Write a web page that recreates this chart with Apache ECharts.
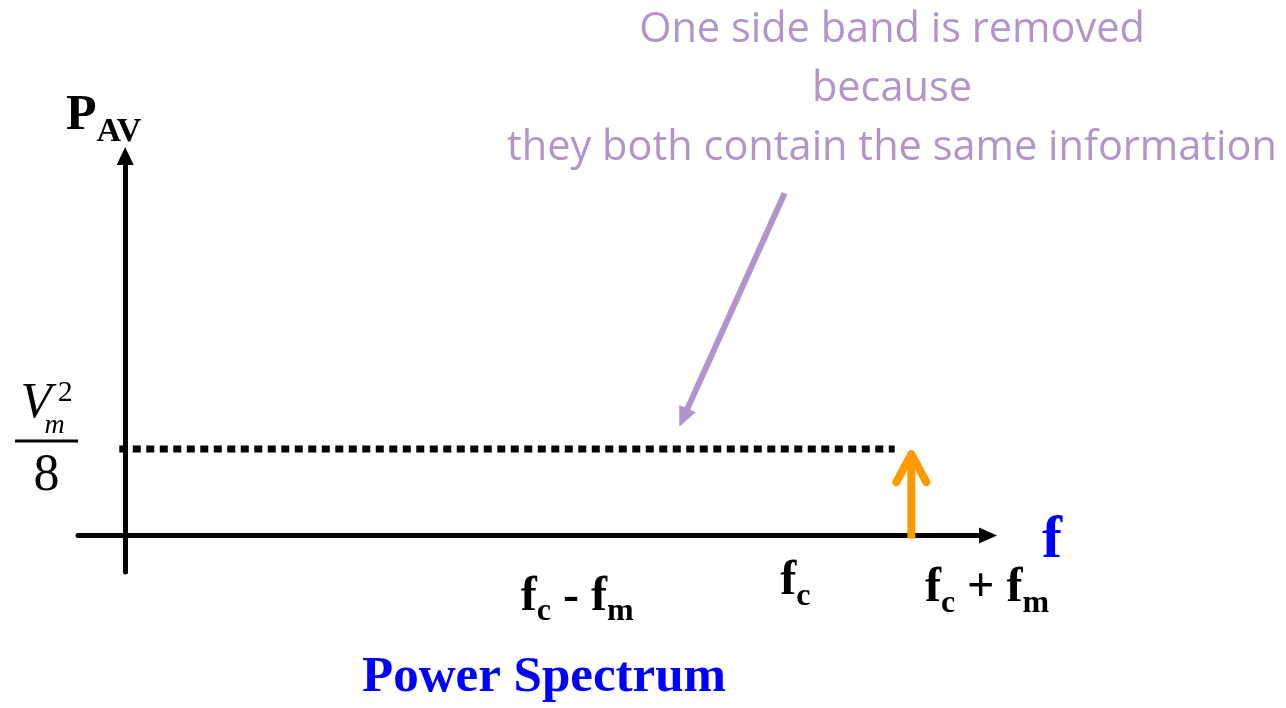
<!DOCTYPE html>
<html>
<head>
<meta charset="utf-8">
<title>Power Spectrum</title>
<script src="https://cdn.jsdelivr.net/npm/echarts@6/dist/echarts.min.js"></script>
<style>
    html, body { margin: 0; padding: 0; background: #fff; }
    #main { width: 1286px; height: 708px; }
</style>
</head>
<body>
<div id="main"></div>
<script>
// axis ranges (f on x, P_AV on y)
var xRange = [-0.48, 8.78];
var yRange = [-0.42, 4.38];

// sideband power level Vm^2/8 and the remaining side band
var level = 1;
var sideBandX = [8];
var sideBandY = [0.94];

// dotted level line
var dottedX = [-0.06, 7.83];

// frequency labels under the axis
var freqLabels = ['f_c - f_m', 'f_c', 'f_c + f_m'];
var freqLabelX = [4.6, 6.82, 8.77];
var freqLabelY = [-0.71, -0.53, -0.61];

// level label (Vm^2 / 8) left of the P axis
var levelLabelX = [-0.8];
var levelLabelY = [1.16];

// annotation arrow (start, end)
var noteArrowX = [6.71, 5.68];
var noteArrowY = [3.95, 1.36];

var noteText = ['One side band is removed', 'because', 'they both contain the same information'];
var titleText = 'Power Spectrum';
var yName = 'P_AV';
var xName = 'f';

var serif = 'Liberation Serif';
var purple = '#b294cc';

// "f_c" -> "{f|f}{s|c}"
function toRich(s) {
    var parts = s.split(/_(\w+)/);
    var out = '';
    for (var i = 0; i < parts.length; i++) {
        if (parts[i] === '') continue;
        out += (i % 2 ? '{s|' : '{f|') + parts[i] + '}';
    }
    return out;
}

var labelData = [];
for (var i = 0; i < freqLabels.length; i++) {
    labelData.push([freqLabelX[i], freqLabelY[i]]);
}

var myChart = echarts.init(document.getElementById('main'));

var option = {
    animation: false,
    backgroundColor: '#fff',
    title: [{
        text: noteText.join('\n'),
        left: 892,
        top: 1,
        padding: 0,
        textAlign: 'center',
        textStyle: {
            fontFamily: 'Open Sans',
            fontWeight: 'normal',
            fontSize: 41.5,
            lineHeight: 59,
            color: purple
        }
    }, {
        text: titleText,
        left: 544,
        top: 652,
        padding: 0,
        textAlign: 'center',
        textStyle: {
            fontFamily: serif,
            fontWeight: 'bold',
            fontSize: 51,
            lineHeight: 51,
            color: '#0000ff'
        }
    }],
    grid: {
        left: 78,
        right: 298,
        top: 156,
        bottom: 136,
        containLabel: false,
        outerBoundsMode: 'none'
    },
    xAxis: {
        type: 'value',
        min: xRange[0],
        max: xRange[1],
        name: xName,
        nameLocation: 'end',
        nameGap: 54,
        nameMoveOverlap: false,
        nameTextStyle: {
            fontFamily: serif,
            fontWeight: 'bold',
            fontSize: 60,
            verticalAlign: 'top',
            lineHeight: 12,
            color: '#0000ff'
        },
        axisLine: {
            onZero: true,
            symbol: ['none', 'triangle'],
            symbolSize: [16, 18],
            lineStyle: {color: '#000', width: 5}
        },
        axisTick: {show: false},
        axisLabel: {show: false},
        splitLine: {show: false}
    },
    yAxis: {
        type: 'value',
        min: yRange[0],
        max: yRange[1],
        name: toRich(yName),
        nameLocation: 'end',
        nameGap: 15,
        nameMoveOverlap: false,
        nameTextStyle: {
            color: '#000',
            padding: [0, 43, 0, 0],
            rich: {
                f: {fontFamily: serif, fontWeight: 'bold', fontSize: 50, lineHeight: 50, color: '#000'},
                s: {fontFamily: serif, fontWeight: 'bold', fontSize: 34, lineHeight: 34, padding: [33, 0, 0, 0], color: '#000'}
            }
        },
        axisLine: {
            onZero: true,
            symbol: ['none', 'triangle'],
            symbolSize: [17, 18],
            lineStyle: {color: '#000', width: 5}
        },
        axisTick: {show: false},
        axisLabel: {show: false},
        splitLine: {show: false}
    },
    series: [{
        name: 'level',
        type: 'line',
        symbol: 'none',
        silent: true,
        lineStyle: {color: '#000', width: 7, type: [8, 5.5], cap: 'butt'},
        data: [[dottedX[0], level], [dottedX[1], level]]
    }, {
        name: 'note',
        type: 'line',
        data: [],
        silent: true,
        markLine: {
            silent: true,
            symbol: ['none', 'triangle'],
            symbolSize: [18, 20],
            label: {show: false},
            lineStyle: {color: purple, width: 6, type: 'solid'},
            data: [[
                {coord: [noteArrowX[0], noteArrowY[0]]},
                {coord: [noteArrowX[1], noteArrowY[1]]}
            ]]
        }
    }, {
        name: 'side band',
        type: 'custom',
        silent: true,
        clip: false,
        renderItem: function (params, api) {
            var base = api.coord([api.value(0), 0]);
            var tip = api.coord([api.value(0), api.value(1)]);
            var color = '#ff9900';
            return {
                type: 'group',
                children: [{
                    type: 'line',
                    shape: {x1: base[0], y1: base[1] + 3, x2: tip[0], y2: tip[1] + 2},
                    style: {stroke: color, lineWidth: 8}
                }, {
                    type: 'polyline',
                    shape: {points: [[tip[0] - 15, tip[1] + 28], [tip[0], tip[1]], [tip[0] + 15, tip[1] + 28]]},
                    style: {stroke: color, fill: null, lineWidth: 8, lineCap: 'round', lineJoin: 'round'}
                }]
            };
        },
        data: sideBandX.map(function (x, i) { return [x, sideBandY[i]]; })
    }, {
        name: 'labels',
        type: 'scatter',
        silent: true,
        clip: false,
        symbolSize: 0,
        itemStyle: {opacity: 1},
        label: {
            show: true,
            position: 'inside',
            color: '#000',
            opacity: 1,
            formatter: function (p) {
                return toRich(freqLabels[p.dataIndex]);
            },
            rich: {
                f: {fontFamily: serif, fontWeight: 'bold', fontSize: 48, lineHeight: 48, color: '#000'},
                s: {fontFamily: serif, fontWeight: 'bold', fontSize: 32, lineHeight: 32, padding: [30, 0, 0, 0], color: '#000'}
            }
        },
        data: labelData
    }, {
        name: 'level label',
        type: 'scatter',
        silent: true,
        clip: false,
        symbolSize: 0,
        itemStyle: {opacity: 1},
        label: {
            show: true,
            position: 'inside',
            color: '#000',
            opacity: 1,
            formatter: function () {
                // Vm^2 over 8
                return '{v|V}{m|m}{sup|2}\n{bar| }\n{d|8}';
            },
            rich: {
                v: {fontFamily: serif, fontStyle: 'italic', fontSize: 51, lineHeight: 72, color: '#000'},
                m: {fontFamily: serif, fontStyle: 'italic', fontSize: 28, width: 6, padding: [44, 0, 0, 0], color: '#000'},
                sup: {fontFamily: serif, fontSize: 30, padding: [0, 0, 20, 0], color: '#000'},
                bar: {fontSize: 1, width: 63, height: 3, lineHeight: 3, backgroundColor: '#000'},
                d: {fontFamily: serif, fontSize: 52, lineHeight: 60, padding: [8, 0, 0, 0], color: '#000'}
            }
        },
        data: [[levelLabelX[0], levelLabelY[0]]]
    }]
};

myChart.setOption(option);
</script>
</body>
</html>
